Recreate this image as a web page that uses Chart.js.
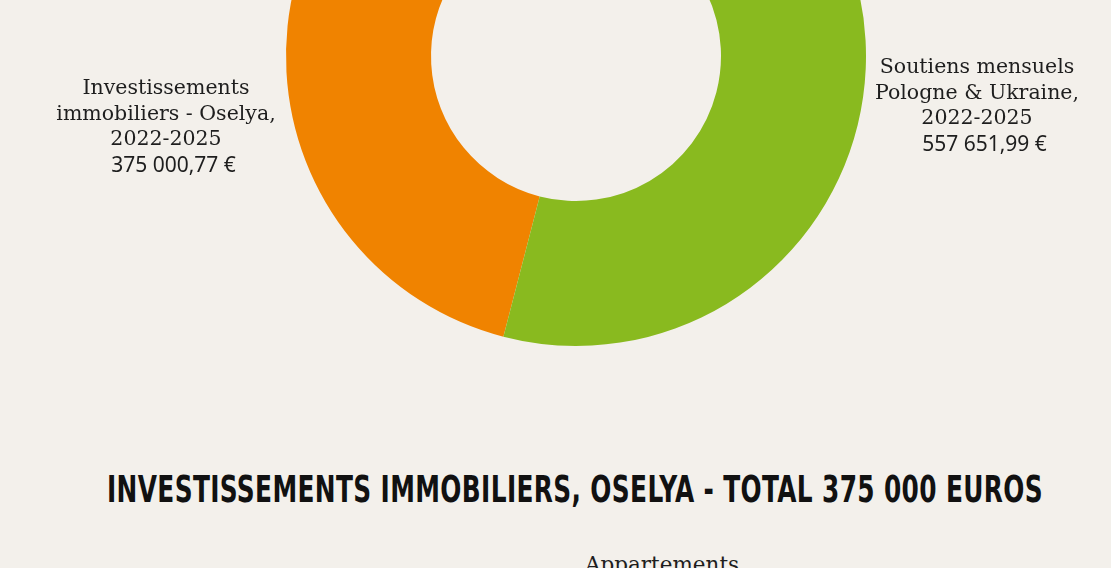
<!DOCTYPE html>
<html>
<head>
<meta charset="utf-8">
<script src="https://cdn.jsdelivr.net/npm/chart.js@4/dist/chart.umd.min.js"></script>
<style>
  html, body { margin:0; padding:0; width:1111px; height:568px; overflow:hidden; background:#f3f0eb; }
  #wrap { position:absolute; left:0; top:-244px; width:1111px; height:600px; }
  .lbl { position:absolute; text-align:center; font-family:"DejaVu Serif", serif; font-size:20.5px; line-height:25.7px; color:#1e1e1e; white-space:pre; }
  .lbl .num { font-family:"Noto Sans", sans-serif; font-size:21px; padding-left:15px; }
  #title { position:absolute; top:468px; left:0; white-space:nowrap; font-family:"DejaVu Sans Condensed","DejaVu Sans",sans-serif; font-weight:bold; font-size:37px; color:#111; transform-origin:0 0; letter-spacing:0.5px; }
  #sub { position:absolute; top:552px; left:0; width:1324px; text-align:center; font-family:"DejaVu Serif", serif; font-size:21.5px; color:#1e1e1e; }
</style>
</head>
<body>
<div id="wrap"><canvas id="c" width="1111" height="600"></canvas></div>
<div class="lbl" id="l0" style="left:16px; top:75px; width:300px;"></div>
<div class="lbl" id="l1" style="left:827px; top:54px; width:300px;"></div>
<div id="title"></div>
<div id="sub">Appartements</div>
<script>
const categories = [
  ["Investissements", "immobiliers - Oselya,", "2022-2025"],
  ["Soutiens mensuels", "Pologne & Ukraine,", "2022-2025"]
];
const values = [375000.77, 557651.99];
const valueLabels = ["375 000,77 €", "557 651,99 €"];
const colors = ["#f08300", "#89ba1f"];
const titleText = "INVESTISSEMENTS IMMOBILIERS, OSELYA - TOTAL 375 000 EUROS";

new Chart(document.getElementById('c'), {
  type: 'doughnut',
  data: {
    labels: categories.map(c => c.join(' ')),
    datasets: [{ data: values, backgroundColor: colors, borderWidth: 0, hoverOffset: 0 }]
  },
  options: {
    responsive: false,
    animation: false,
    cutout: '50%',
    rotation: 194.5,
    layout: { padding: { top: 10, bottom: 10, left: 41, right: 0 } },
    plugins: { legend: { display: false }, tooltip: { enabled: false } }
  }
});

categories.forEach((lines, i) => {
  const el = document.getElementById('l' + i);
  el.innerHTML = lines.map(s => s.replace(/&/g,'&amp;')).join('<br>') + '<br><span class="num">' + valueLabels[i] + '</span>';
});

const t = document.getElementById('title');
t.textContent = titleText;
const w = t.getBoundingClientRect().width;
const target = 936;
const s = target / w;
t.style.transform = 'scaleX(' + s + ')';
t.style.left = (107) + 'px';
</script>
</body>
</html>
